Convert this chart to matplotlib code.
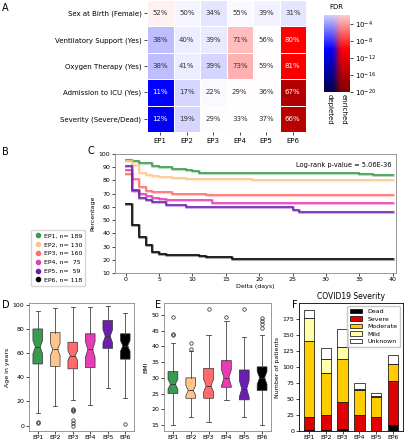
import numpy as np
import matplotlib
matplotlib.use('Agg')
import matplotlib.pyplot as plt
from matplotlib.lines import Line2D

plt.rcParams['font.family'] = 'DejaVu Sans'
plt.rcParams['font.size'] = 4.5
plt.rcParams['axes.linewidth'] = 0.6
plt.rcParams['xtick.major.width'] = 0.5
plt.rcParams['ytick.major.width'] = 0.5
plt.rcParams['xtick.major.size'] = 2
plt.rcParams['ytick.major.size'] = 2
plt.rcParams['xtick.major.pad'] = 1.2
plt.rcParams['ytick.major.pad'] = 1.5

# ---- data ----
groups = ['EP1', 'EP2', 'EP3', 'EP4', 'EP5', 'EP6']
group_n = [189, 130, 160, 75, 59, 118]
group_colors = ['#3a9a4f', '#ffc48a', '#ff6b6b', '#e63cb4', '#6a1fb0', '#000000']

heat_rows = ['Sex at Birth (Female)', 'Ventilatory Support (Yes)', 'Oxygen Therapy (Yes)',
             'Admission to ICU (Yes)', 'Severity (Severe/Dead)']
heat_pct = [[52, 50, 34, 55, 39, 31],
            [38, 40, 39, 71, 56, 80],
            [38, 41, 39, 73, 59, 81],
            [11, 17, 22, 29, 36, 67],
            [12, 19, 29, 33, 37, 66]]
# signed -log10(FDR): negative = depleted, positive = enriched
heat_logfdr = [[0.5, -0.4, -1.0, -0.3, -0.6, -1.0],
               [-2.6, -0.7, -0.8, 2.6, 0.1, 10.0],
               [-2.6, -0.7, -1.6, 3.0, 0.1, 10.5],
               [-10.0, -1.6, -0.2, 0.1, 0.1, 16.0],
               [-10.5, -1.6, -0.1, 0.1, 0.1, 15.5]]

# Kaplan-Meier style curves (days, percentage)
ep1_days = [0, 1, 2, 4, 5, 7, 9, 10, 11, 16, 35, 37, 40]
ep1_pct = [95.5, 94.5, 93, 91, 90, 89, 88, 87, 86, 85.5, 85, 84.3, 84.3]
ep2_days = [0, 1, 2, 3, 4, 5, 7, 9, 19, 40]
ep2_pct = [95, 92, 86, 84, 83, 82.5, 82, 81, 80, 80]
ep3_days = [0, 1, 2, 3, 4, 7, 12, 40]
ep3_pct = [85, 81, 75, 72, 71, 70, 69, 69]
ep4_days = [0, 1, 2, 3, 4, 5, 6, 13, 40]
ep4_pct = [88, 72, 70, 68, 67, 66, 65, 63, 63]
ep5_days = [0, 1, 2, 3, 4, 6, 9, 25, 26, 40]
ep5_pct = [91, 72.5, 67, 65, 63.5, 61.5, 60, 58, 56.5, 56.5]
ep6_days = [0, 1, 2, 3, 4, 5, 6, 11, 12, 16, 40]
ep6_pct = [62, 46, 37, 31, 26, 24, 23.5, 22.5, 22, 20.5, 20.5]

# Age box statistics
age_lo = [10, 16, 21, 17, 31, 23]
age_q1 = [51, 49, 47, 48, 64, 55]
age_med = [65, 63, 58, 63, 74, 66]
age_q3 = [80, 77, 69, 76, 87, 76]
age_hi = [95, 97, 98, 98, 99, 93]
age_ci = [5.5, 5, 4, 6.5, 5.5, 4.5]
age_fliers = [[3, 2.5], [], [14, 13, 12, 5, 2, 0], [], [], [1]]

# BMI box statistics
bmi_lo = [15, 17.5, 16, 23, 17.5, 15]
bmi_q1 = [25, 23.5, 23.5, 27, 23, 26]
bmi_med = [28, 26, 27.5, 30, 26.5, 30]
bmi_q3 = [32, 30, 33, 35.5, 32.5, 33.5]
bmi_hi = [41, 38.5, 43.5, 48, 43, 43.5]
bmi_ci = [1.6, 1.6, 2.0, 2.6, 2.6, 2.0]
bmi_fliers = [[43.5, 44, 49.5], [39.3, 41], [52], [49.5], [52], [46, 47, 48, 49]]

# COVID19 severity counts
sev_labels = ['Dead', 'Severe', 'Moderate', 'Mild', 'Unknown']
sev_dead = [1, 1, 3, 0, 0, 9]
sev_severe = [21, 24, 43, 25, 22, 69]
sev_moderate = [118, 66, 66, 39, 31, 26]
sev_mild = [36, 21, 19, 1, 1, 1]
sev_unknown = [13, 18, 29, 10, 5, 13]
sev_colors = ['#000000', '#e00000', '#ffcc00', '#ffffa8', '#ffffff']

W, H = 408, 440
fig = plt.figure(figsize=(W / 100, H / 100), dpi=100)


def rect(x0, y0, x1, y1):
    return [x0 / W, 1 - y1 / H, (x1 - x0) / W, (y1 - y0) / H]


def panel_label(x, y, s):
    fig.text(x / W, 1 - y / H, s, fontsize=7, va='center')


cmap = plt.get_cmap('seismic')

# ---- A: heatmap ----
ax = fig.add_axes(rect(147, 0, 306, 132))
vals = np.array(heat_logfdr)
ax.pcolormesh(np.arange(7), np.arange(6), vals, cmap=cmap, vmin=-20, vmax=20,
              edgecolor='white', linewidth=0.6)
for i in range(len(heat_rows)):
    for j in range(len(groups)):
        c = 'white' if abs(vals[i, j]) > 7 else '#333333'
        ax.text(j + 0.5, i + 0.5, f'{heat_pct[i][j]}%', ha='center', va='center',
                color=c, fontsize=5)
ax.set_xlim(0, 6)
ax.set_ylim(5, 0)
ax.set_xticks(np.arange(6) + 0.5)
ax.set_xticklabels(groups, fontsize=5)
ax.set_yticks(np.arange(5) + 0.5)
ax.set_yticklabels(heat_rows, fontsize=5)
ax.tick_params(pad=2)
for s in ax.spines.values():
    s.set_visible(False)
panel_label(2, 8, 'A')

# colorbar (two strips)
axc = fig.add_axes(rect(324, 15, 350, 92))
yy = np.linspace(-20, -1.9, 200)
mag = -yy
blue = cmap(0.5 - mag / 40)
red = cmap(0.5 + mag / 40)
img = np.stack([blue, red], axis=1)
axc.imshow(img, aspect='auto', origin='lower', extent=[0, 2, -20, -1.9])
axc.set_xlim(0, 2)
axc.set_ylim(-20, -1.9)
axc.set_xticks([])
axc.yaxis.tick_right()
axc.set_yticks([-4, -8, -12, -16, -20])
axc.set_yticklabels(['$10^{-4}$', '$10^{-8}$', '$10^{-12}$', '$10^{-16}$', '$10^{-20}$'],
                    fontsize=5)
for s in axc.spines.values():
    s.set_visible(False)
fig.text(336 / W, 1 - 7 / H, 'FDR', fontsize=5, ha='center', va='center')
fig.text(330 / W, 1 - 94 / H, 'depleted', fontsize=5, rotation=270, ha='center', va='top')
fig.text(344 / W, 1 - 94 / H, 'enriched', fontsize=5, rotation=270, ha='center', va='top')

# ---- C: survival curves ----
axC = fig.add_axes(rect(115, 154, 396, 273))
km = [(ep1_days, ep1_pct), (ep2_days, ep2_pct), (ep3_days, ep3_pct),
      (ep4_days, ep4_pct), (ep5_days, ep5_pct), (ep6_days, ep6_pct)]
for (d, p), col in zip(km, group_colors):
    axC.step(d, p, where='post', color=col, lw=2.2, alpha=0.35)
    axC.step(d, p, where='post', color=col, lw=1.1)
axC.set_xlim(-1.6, 40.5)
axC.set_ylim(10, 100)
axC.set_xticks(range(0, 41, 5))
axC.set_yticks(range(10, 101, 10))
axC.set_xlabel('Delta (days)', labelpad=1)
axC.set_ylabel('Percentage', labelpad=2)
axC.text(0.985, 0.93, 'Log-rank p-value = 5.06E-36', transform=axC.transAxes,
         ha='right', va='top', fontsize=4.8)
for s in axC.spines.values():
    s.set_color('#888888')
panel_label(2, 152, 'B')
panel_label(88, 151, 'C')

# ---- B: legend ----
handles = [Line2D([], [], marker='o', ls='none', color=c, markersize=3) for c in group_colors]
labels = [f'{g}, n= {n:>3}' for g, n in zip(groups, group_n)]
fig.legend(handles, labels, loc='upper left', bbox_to_anchor=(28 / W, 1 - 227 / H),
           fontsize=4.5, frameon=True, handletextpad=0.3, labelspacing=0.55,
           borderpad=0.5, handlelength=1.2, edgecolor='#cccccc', fancybox=True)


# ---- D / E: boxplots ----
def draw_box(axb, lo, q1, med, q3, hi, ci, fliers):
    stats = []
    for k in range(len(groups)):
        stats.append(dict(med=med[k], q1=q1[k], q3=q3[k], whislo=lo[k], whishi=hi[k],
                          cilo=med[k] - ci[k], cihi=med[k] + ci[k], fliers=fliers[k]))
    bp = axb.bxp(stats, positions=range(1, 7), widths=0.55, capwidths=0.25,
                 patch_artist=True, shownotches=True,
                 boxprops=dict(lw=0.5, edgecolor='#333333'),
                 medianprops=dict(color='#333333', lw=0.6),
                 whiskerprops=dict(color='#444444', lw=0.6),
                 capprops=dict(color='#444444', lw=0.6),
                 flierprops=dict(marker='o', markersize=2.5, markerfacecolor='none',
                                 markeredgecolor='#222222', markeredgewidth=0.5))
    for patch, col in zip(bp['boxes'], group_colors):
        patch.set_facecolor(col)
    axb.set_xticks(range(1, 7))
    axb.set_xticklabels(groups)
    axb.set_xlim(0.5, 6.5)
    for s in axb.spines.values():
        s.set_color('#888888')


axD = fig.add_axes(rect(29, 303, 134, 431))
draw_box(axD, age_lo, age_q1, age_med, age_q3, age_hi, age_ci, age_fliers)
axD.set_ylim(-4.5, 101.5)
axD.set_yticks(range(0, 101, 20))
axD.set_ylabel('Age in years', labelpad=2)
panel_label(2, 305, 'D')

axE = fig.add_axes(rect(164, 303, 271, 431))
draw_box(axE, bmi_lo, bmi_q1, bmi_med, bmi_q3, bmi_hi, bmi_ci, bmi_fliers)
axE.set_ylim(13.1, 53.8)
axE.set_yticks(range(15, 51, 5))
axE.set_ylabel('BMI', labelpad=2)
panel_label(155, 305, 'E')

# ---- F: stacked bars ----
axF = fig.add_axes(rect(299, 303, 403, 431))
x = np.arange(len(groups))
bottom = np.zeros(len(groups))
for lab, vals_s, col in zip(sev_labels, [sev_dead, sev_severe, sev_moderate, sev_mild, sev_unknown],
                            sev_colors):
    axF.bar(x, vals_s, 0.6, bottom=bottom, color=col, edgecolor='black', lw=0.5, label=lab)
    bottom += np.array(vals_s)
axF.set_xticks(x)
axF.set_xticklabels(groups)
axF.set_yticks(range(0, 176, 25))
axF.set_ylim(0, 200)
axF.set_ylabel('Number of patients', labelpad=2)
axF.set_title('COVID19 Severity', fontsize=5.5, pad=3)
axF.legend(loc='upper right', fontsize=4.5, handlelength=2, labelspacing=0.35,
           borderpad=0.4, edgecolor='#bbbbbb')
panel_label(292, 305, 'F')

fig.savefig('out.png', dpi=100)
